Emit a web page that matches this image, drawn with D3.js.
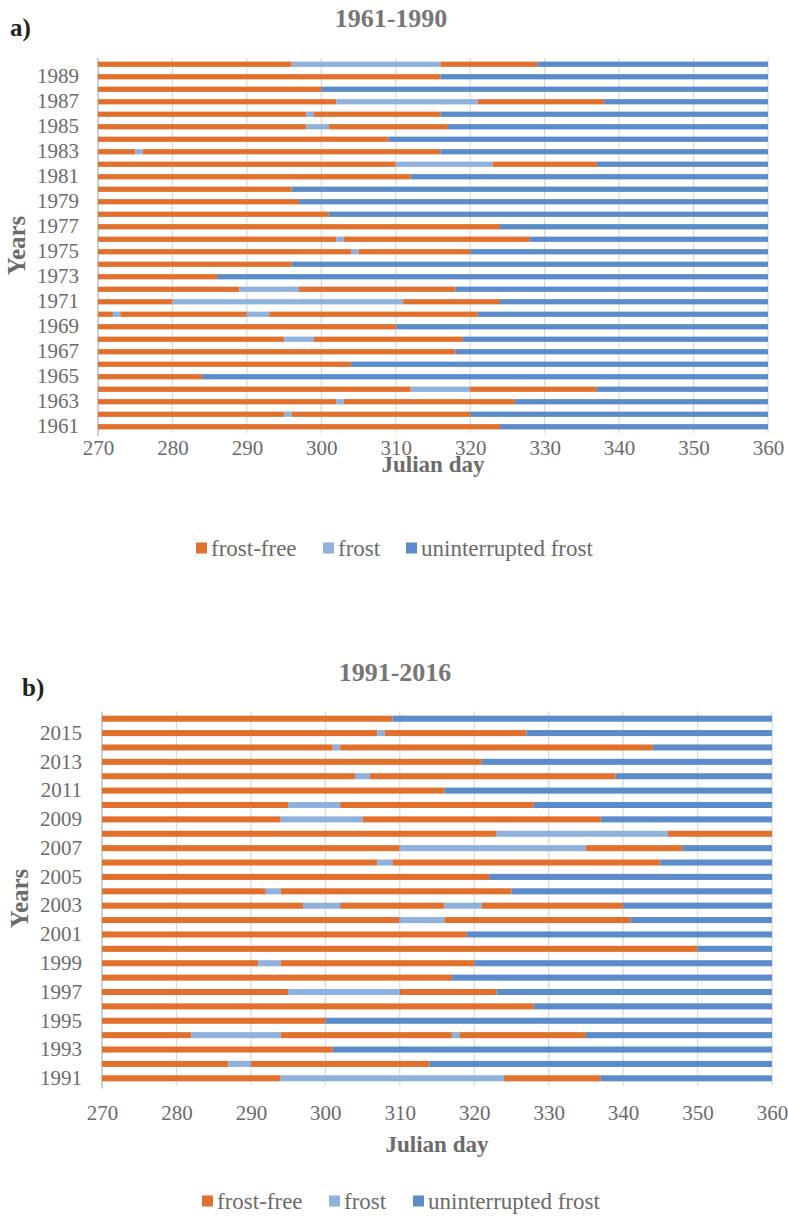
<!DOCTYPE html>
<html>
<head>
<meta charset="utf-8">
<script src="https://cdn.jsdelivr.net/npm/d3@7"></script>
<style>
  html, body { margin: 0; padding: 0; background: #fff; }
  svg { display: block; }
  text { font-family: "Liberation Serif", "Times New Roman", serif; }
</style>
</head>
<body>
<svg id="chart" width="788" height="1216"></svg>
<script>
// Period types, in legend order
const periodKeys = ["ff", "f", "u"];
const periodNames = ["frost-free", "frost", "uninterrupted frost"];
const periodColors = ["#E1702D", "#8FB1DE", "#5B8BC8"];

// Julian-day axis
const dayTicks = [270, 280, 290, 300, 310, 320, 330, 340, 350, 360];

// 1961-1990: each row lists consecutive periods as [type, last day]; rows start at day 270
const yearsA = [1961, 1962, 1963, 1964, 1965, 1966, 1967, 1968, 1969, 1970,
                1971, 1972, 1973, 1974, 1975, 1976, 1977, 1978, 1979, 1980,
                1981, 1982, 1983, 1984, 1985, 1986, 1987, 1988, 1989, 1990];
const periodsA = [
  [["ff", 324], ["u", 360]],
  [["ff", 295], ["f", 296], ["ff", 320], ["u", 360]],
  [["ff", 302], ["f", 303], ["ff", 326], ["u", 360]],
  [["ff", 312], ["f", 320], ["ff", 337], ["u", 360]],
  [["ff", 284], ["u", 360]],
  [["ff", 304], ["u", 360]],
  [["ff", 318], ["u", 360]],
  [["ff", 295], ["f", 299], ["ff", 319], ["u", 360]],
  [["ff", 310], ["u", 360]],
  [["ff", 272], ["f", 273], ["ff", 290], ["f", 293], ["ff", 321], ["u", 360]],
  [["ff", 280], ["f", 311], ["ff", 324], ["u", 360]],
  [["ff", 289], ["f", 297], ["ff", 318], ["u", 360]],
  [["ff", 286], ["u", 360]],
  [["ff", 296], ["u", 360]],
  [["ff", 304], ["f", 305], ["ff", 320], ["u", 360]],
  [["ff", 302], ["f", 303], ["ff", 328], ["u", 360]],
  [["ff", 324], ["u", 360]],
  [["ff", 301], ["u", 360]],
  [["ff", 297], ["u", 360]],
  [["ff", 296], ["u", 360]],
  [["ff", 312], ["u", 360]],
  [["ff", 310], ["f", 323], ["ff", 337], ["u", 360]],
  [["ff", 275], ["f", 276], ["ff", 316], ["u", 360]],
  [["ff", 309], ["u", 360]],
  [["ff", 298], ["f", 301], ["ff", 317], ["u", 360]],
  [["ff", 298], ["f", 299], ["ff", 316], ["u", 360]],
  [["ff", 302], ["f", 321], ["ff", 338], ["u", 360]],
  [["ff", 300], ["u", 360]],
  [["ff", 316], ["u", 360]],
  [["ff", 296], ["f", 316], ["ff", 329], ["u", 360]]
];

// 1991-2016
const yearsB = [1991, 1992, 1993, 1994, 1995, 1996, 1997, 1998, 1999, 2000,
                2001, 2002, 2003, 2004, 2005, 2006, 2007, 2008, 2009, 2010,
                2011, 2012, 2013, 2014, 2015, 2016];
const periodsB = [
  [["ff", 294], ["f", 324], ["ff", 337], ["u", 360]],
  [["ff", 287], ["f", 290], ["ff", 314], ["u", 360]],
  [["ff", 301], ["u", 360]],
  [["ff", 282], ["f", 294], ["ff", 317], ["f", 318], ["ff", 335], ["u", 360]],
  [["ff", 300], ["u", 360]],
  [["ff", 328], ["u", 360]],
  [["ff", 295], ["f", 310], ["ff", 323], ["u", 360]],
  [["ff", 317], ["u", 360]],
  [["ff", 291], ["f", 294], ["ff", 320], ["u", 360]],
  [["ff", 350], ["u", 360]],
  [["ff", 319], ["u", 360]],
  [["ff", 310], ["f", 316], ["ff", 341], ["u", 360]],
  [["ff", 297], ["f", 302], ["ff", 316], ["f", 321], ["ff", 340], ["u", 360]],
  [["ff", 292], ["f", 294], ["ff", 325], ["u", 360]],
  [["ff", 322], ["u", 360]],
  [["ff", 307], ["f", 309], ["ff", 345], ["u", 360]],
  [["ff", 310], ["f", 335], ["ff", 348], ["u", 360]],
  [["ff", 323], ["f", 346], ["ff", 360]],
  [["ff", 294], ["f", 305], ["ff", 337], ["u", 360]],
  [["ff", 295], ["f", 302], ["ff", 328], ["u", 360]],
  [["ff", 316], ["u", 360]],
  [["ff", 304], ["f", 306], ["ff", 339], ["u", 360]],
  [["ff", 321], ["u", 360]],
  [["ff", 301], ["f", 302], ["ff", 344], ["u", 360]],
  [["ff", 307], ["f", 308], ["ff", 327], ["u", 360]],
  [["ff", 309], ["u", 360]]
];

const FONT = "Liberation Serif, Times New Roman, serif";
const GREY = "#6b6b6b";

const svg = d3.select("#chart");
svg.append("rect").attr("width", 788).attr("height", 1216).attr("fill", "#fff");

const color = d3.scaleOrdinal().domain(periodKeys).range(periodColors);

function drawPanel(cfg) {
  const g = svg.append("g").attr("font-family", FONT);
  const x = d3.scaleLinear().domain([270, 360]).range([cfg.left, cfg.right]);
  const y = d3.scaleBand()
    .domain(cfg.years.slice().reverse())
    .range([cfg.top, cfg.bottom])
    .paddingInner(cfg.pad).paddingOuter(cfg.pad / 2);

  // vertical gridlines
  g.append("g").selectAll("line")
    .data(dayTicks.slice(1))
    .join("line")
    .attr("x1", d => x(d)).attr("x2", d => x(d))
    .attr("y1", cfg.top).attr("y2", cfg.bottom)
    .attr("stroke", "#d9d9d9").attr("stroke-width", 1.2);

  // category axis line
  g.append("line")
    .attr("x1", x(270)).attr("x2", x(270))
    .attr("y1", cfg.top).attr("y2", cfg.bottom + 3)
    .attr("stroke", "#bfbfbf").attr("stroke-width", 1.5);

  // stacked period segments
  const rows = cfg.years.map((yr, i) => {
    let start = 270;
    return cfg.periods[i].map(([k, end]) => {
      const seg = { year: yr, key: k, start: start, end: end };
      start = end;
      return seg;
    });
  });
  g.append("g").selectAll("g")
    .data(rows)
    .join("g")
    .selectAll("rect")
    .data(d => d)
    .join("rect")
    .attr("x", d => x(d.start))
    .attr("width", d => x(d.end) - x(d.start))
    .attr("y", d => y(d.year))
    .attr("height", y.bandwidth())
    .attr("fill", d => color(d.key));

  // year labels (every other year)
  const yAxis = d3.axisLeft(y)
    .tickValues(cfg.years.filter(v => v % 2 === 1))
    .tickSize(0).tickPadding(cfg.left - cfg.yLabelRight);
  const ya = g.append("g").attr("transform", `translate(${cfg.left},0)`).call(yAxis);
  ya.select(".domain").remove();
  ya.attr("font-family", FONT);
  ya.selectAll("text")
    .attr("font-family", FONT)
    .attr("font-size", 21).attr("fill", GREY);

  // day labels
  const xAxis = d3.axisBottom(x).tickValues(dayTicks).tickSize(0).tickPadding(0);
  const xa = g.append("g").attr("transform", `translate(0,${cfg.tickBase})`).call(xAxis);
  xa.select(".domain").remove();
  xa.attr("font-family", FONT);
  xa.selectAll("text")
    .attr("dy", 0)
    .attr("font-family", FONT)
    .attr("font-size", 21).attr("fill", GREY);

  // titles
  g.append("text")
    .attr("x", cfg.titleX).attr("y", cfg.titleY)
    .attr("text-anchor", "middle")
    .attr("font-size", 26).attr("font-weight", "bold").attr("fill", "#767676")
    .text(cfg.title);
  g.append("text")
    .attr("x", cfg.tagX).attr("y", cfg.tagY)
    .attr("font-size", 25).attr("font-weight", "bold").attr("fill", "#222")
    .text(cfg.tag);
  g.append("text")
    .attr("x", (cfg.left + cfg.right) / 2).attr("y", cfg.xTitleY)
    .attr("text-anchor", "middle")
    .attr("font-size", 23).attr("font-weight", "bold").attr("fill", GREY)
    .text("Julian day");
  g.append("text")
    .attr("transform", `translate(${cfg.yTitleX},${(cfg.top + cfg.bottom) / 2}) rotate(-90)`)
    .attr("text-anchor", "middle")
    .attr("font-size", 25).attr("font-weight", "bold").attr("fill", GREY)
    .text("Years");

  // legend
  const lg = g.append("g").selectAll("g")
    .data(periodKeys)
    .join("g")
    .attr("transform", (d, i) => `translate(${cfg.legendX[i]},${cfg.legendY})`);
  lg.append("rect")
    .attr("x", 0).attr("y", -5.5).attr("width", 11).attr("height", 11)
    .attr("fill", d => color(d));
  lg.append("text")
    .attr("x", 15).attr("y", 7.5)
    .attr("font-size", 23).attr("fill", GREY)
    .text((d, i) => periodNames[i]);
}

drawPanel({
  years: yearsA, periods: periodsA,
  left: 98, right: 768, top: 58, bottom: 433, pad: 0.58,
  yLabelRight: 79, tickBase: 455, xTitleY: 472, yTitleX: 25,
  title: "1961-1990", titleX: 391, titleY: 27,
  tag: "a)", tagX: 10, tagY: 36,
  legendX: [196, 323, 406], legendY: 548
});

drawPanel({
  years: yearsB, periods: periodsB,
  left: 102, right: 772, top: 711.5, bottom: 1085.5, pad: 0.58,
  yLabelRight: 82, tickBase: 1120, xTitleY: 1152, yTitleX: 28,
  title: "1991-2016", titleX: 395, titleY: 681,
  tag: "b)", tagX: 22, tagY: 696,
  legendX: [202, 329, 413], legendY: 1201
});
</script>
</body>
</html>
